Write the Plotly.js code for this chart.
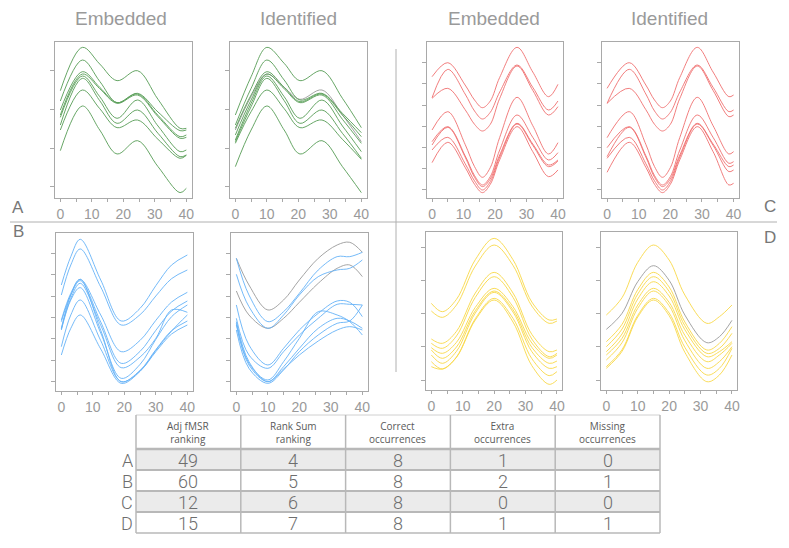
<!DOCTYPE html>
<html>
<head>
<meta charset="utf-8">
<script src="https://cdn.plot.ly/plotly-3.0.1.min.js"></script>
<style>html,body{margin:0;padding:0;background:#fff;}#chart{width:789px;height:548px;}</style>
</head>
<body>
<div id="chart"></div>
<script>
// ---------------- DATA ----------------
// Panel A (green) - Embedded (8 profiles) and Identified (8 + 1 extra)
const aEmbX = [0, 7, 12.5, 18, 24.5, 31, 38, 40];
const aEmbY = [
  [323,453,403,353,383,297,210,210],
  [292,415,351,287,315,259,203,205],
  [265,380,333,287,313,249,185,190],
  [250,373,329,285,310,245,180,183],
  [243,367,305,240,295,217,140,145],
  [220,360,293,225,265,195,125,130],
  [205,325,269,212,235,177,120,129],
  [143,277,205,133,173,95,17,30]
];
const aIdX = [0, 5, 10, 15.5, 20.5, 27.5, 34, 40];
const aIdY = [
  [250,365,453,405,353,383,300,212],
  [220,330,415,355,295,315,255,197],
  [210,310,380,333,290,313,250,185],
  [190,295,373,329,287,310,237,165],
  [175,285,367,305,240,295,217,140],
  [170,275,360,293,225,265,195,120],
  [165,260,325,269,212,235,177,117],
  [95,205,277,205,133,173,95,17]
];
const aIdExtra = [
  [205,305,373,333,297,325,250,170]
];

// Panel B (blue)
const bEmbX = [0, 3, 6, 12.5, 19, 25, 30, 35, 40];
const bEmbY = [
  [318,403,455,333,210,248,316,378,408],
  [288,378,426,312,198,229,285,337,363],
  [213,293,335,228,118,152,212,267,296],
  [208,288,331,207,83,119,182,240,270],
  [188,278,323,197,70,102,158,243,236],
  [183,273,310,174,38,80,155,223,258],
  [186,288,335,182,28,62,124,181,210],
  [133,228,273,151,28,60,118,171,198],
  [108,188,228,126,23,59,122,180,228]
];
const bIdX = [0, 4, 10, 15, 20, 26, 32, 36, 40];
const bIdY = [
  [398,288,208,238,293,363,403,403,416],
  [350,253,188,228,288,343,363,368,393],
  [258,138,78,128,183,233,270,266,223],
  [218,108,68,118,168,218,260,260,258],
  [203,83,33,88,158,238,228,208,168],
  [198,78,28,73,128,188,218,210,188],
  [183,68,23,63,118,168,203,210,258],
  [208,88,28,66,108,150,183,193,183]
];
const bIdExtra = [
  [398,318,243,273,333,398,438,446,416],
  [300,228,188,218,266,323,368,378,343]
];

// Panel C (red)
const cEmbX = [0, 5, 10.5, 13.5, 16, 18.5, 21.5, 27, 32, 37, 40];
const cEmbY = [
  [365,407,340,295,272,292,363,453,379,305,342],
  [302,387,313,262,238,258,319,400,333,265,292],
  [300,330,266,222,202,222,300,397,324,250,275],
  [205,260,162,95,63,92,183,303,218,133,167],
  [170,215,128,68,40,65,145,250,183,115,137],
  [160,213,124,63,35,58,130,225,163,100,115],
  [145,183,104,52,25,50,124,223,159,95,112],
  [107,168,93,42,17,42,116,215,140,65,85]
];
const cIdX = [0, 7, 12.25, 15, 17.5, 20, 23, 28.5, 33.5, 38.5, 40];
const cIdY = [
  [330,407,340,295,272,292,363,453,379,305,310],
  [285,387,313,262,238,258,319,400,333,260,265],
  [285,330,266,222,202,222,300,397,324,245,250],
  [182,260,162,95,63,92,183,303,218,133,140],
  [152,215,128,68,40,65,145,250,183,105,110],
  [125,213,124,63,35,58,130,225,163,95,100],
  [120,183,104,52,25,50,124,223,159,80,85],
  [78,168,93,42,17,42,116,215,140,40,45]
];

// Panel D (yellow)
const dEmbX = [0, 3.5, 8, 14, 20, 26, 32, 37.5, 40];
const dEmbY = [
  [260,235,272,391,455,391,264,210,213],
  [237,218,255,372,435,374,252,200,207],
  [153,140,176,291,353,291,167,115,120],
  [140,125,162,278,340,278,153,100,110],
  [127,110,143,248,305,250,141,95,105],
  [120,95,129,238,297,241,128,80,87],
  [105,80,116,231,293,234,115,65,70],
  [85,63,99,214,275,215,94,43,55],
  [70,63,98,210,270,204,73,17,30]
];
const dIdX = [0, 5, 10, 15, 20, 25, 32, 36, 40];
const dIdY = [
  [225,277,383,435,390,285,200,220,255],
  [145,197,301,353,309,204,120,140,190],
  [130,183,288,340,296,193,110,125,170],
  [115,168,273,325,282,181,100,115,145],
  [105,155,255,305,263,164,85,105,140],
  [90,142,245,297,253,148,65,85,130],
  [70,121,224,275,231,128,45,65,125],
  [65,116,219,270,223,113,25,45,105]
];
const dIdExtra = [
  [182,230,325,373,329,225,142,160,209]
];

// Table
const tableHeaders = ["Adj fMSR<br>ranking", "Rank Sum<br>ranking", "Correct<br>occurrences", "Extra<br>occurrences", "Missing<br>occurrences"];
const rowLabels = ["A", "B", "C", "D"];
const adjFmsr = [49, 60, 12, 15];
const rankSum = [4, 5, 6, 7];
const correctOcc = [8, 8, 8, 8];
const extraOcc = [1, 2, 0, 1];
const missingOcc = [0, 1, 0, 1];

const panelTitles = ["Embedded", "Identified", "Embedded", "Identified"];
const quadrantLetters = ["A", "B", "C", "D"];

// ---------------- LAYOUT / DRAW ----------------
const W = 789, H = 548;
const X = p => p / W;
const Y = p => 1 - p / H;
const px = (l, r) => [X(l), X(r)];
const py = (t, b) => [Y(b), Y(t)];

const GREEN = '#579c55', BLUE = '#66b2f7', RED = '#f07070', YELLOW = '#f8d848', GRAY = '#9a9a9a';
const AX = '#a9a9a9';
const LIGHT = "Roboto, 'Liberation Sans', Arial, sans-serif";
const SANS = "'Liberation Sans', Arial, sans-serif";

const panels = [
  {id:'',  xs:aEmbX, ys:aEmbY, extra:[],       color:GREEN,  xd:px(55,191.7),    yd:py(41.7,198.3), yr:470, t0:35, dt:115.7},
  {id:'2', xs:aIdX,  ys:aIdY,  extra:aIdExtra, color:GREEN,  xd:px(230,366.7),   yd:py(41.7,198.3), yr:470, t0:35, dt:115.7},
  {id:'3', xs:cEmbX, ys:cEmbY, extra:[],       color:RED,    xd:px(426.7,563.3), yd:py(41.7,198.3), yr:470, t0:25, dt:63.7},
  {id:'4', xs:cIdX,  ys:cIdY,  extra:[],       color:RED,    xd:px(601.7,739),   yd:py(41.7,198.3), yr:470, t0:25, dt:63.7},
  {id:'5', xs:bEmbX, ys:bEmbY, extra:[],       color:BLUE,   xd:px(56,192.7),    yd:py(233.3,391),  yr:473, t0:28, dt:64.2},
  {id:'6', xs:bIdX,  ys:bIdY,  extra:bIdExtra, color:BLUE,   xd:px(231,367.7),   yd:py(233.3,391),  yr:473, t0:28, dt:64.2},
  {id:'7', xs:dEmbX, ys:dEmbY, extra:[],       color:YELLOW, xd:px(426,562.3),   yd:py(231.7,390),  yr:475, t0:30, dt:99.3},
  {id:'8', xs:dIdX,  ys:dIdY,  extra:dIdExtra, color:YELLOW, xd:px(601,737.3),   yd:py(231.7,390),  yr:475, t0:30, dt:99.3}
];

const traces = [];
const layout = {
  width: W, height: H,
  margin: {l:0, r:0, t:0, b:0},
  paper_bgcolor: '#ffffff', plot_bgcolor: '#ffffff',
  showlegend: false,
  annotations: [], shapes: []
};

panels.forEach(p => {
  const xa = 'x' + p.id, ya = 'y' + p.id;
  const addLine = (ys, col) => traces.push({
    type:'scatter', mode:'lines', x:p.xs, y:ys, xaxis:xa, yaxis:ya,
    line:{shape:'spline', smoothing:1, color:col, width:1}, opacity:0.9, hoverinfo:'skip'
  });
  p.extra.forEach(ys => addLine(ys, GRAY));
  p.ys.forEach(ys => addLine(ys, p.color));
  layout['xaxis' + p.id] = {
    domain:p.xd, anchor:ya, range:[-1.7, 41.7],
    showline:true, mirror:true, linecolor:AX, linewidth:1,
    ticks:'outside', ticklen:3, tickcolor:AX, tick0:0, dtick:10,
    minor:{dtick:5, ticks:'outside', ticklen:3, tickcolor:AX, showgrid:false},
    showgrid:false, zeroline:false,
    tickfont:{family:SANS, size:14, color:'#9a9a9a'}
  };
  layout['yaxis' + p.id] = {
    domain:p.yd, anchor:xa, range:[0, p.yr],
    showline:true, mirror:true, linecolor:AX, linewidth:1,
    ticks:'outside', ticklen:4, tickcolor:AX, tick0:p.t0, dtick:p.dt,
    showticklabels:false, showgrid:false, zeroline:false
  };
});

// ---- Table (shapes + text) ----
const tb = {left:136, right:660, top:415, headH:34, rowH:21};
const cols = [adjFmsr, rankSum, correctOcc, extraOcc, missingOcc];
const nCol = cols.length, nRow = rowLabels.length;
const colW = (tb.right - tb.left) / nCol;
const bodyTop = tb.top + tb.headH;
const bottom = bodyTop + nRow * tb.rowH;
const LINE = '#b8b8b8';

rowLabels.forEach((r, i) => {
  if (i % 2 === 0) layout.shapes.push({type:'rect', xref:'paper', yref:'paper', layer:'below',
    x0:X(tb.left), x1:X(tb.right), y0:Y(bodyTop + (i+1)*tb.rowH), y1:Y(bodyTop + i*tb.rowH),
    fillcolor:'#ebebeb', line:{width:0}});
});
layout.shapes.push({type:'line', xref:'paper', yref:'paper', x0:X(tb.left), x1:X(tb.right), y0:Y(tb.top), y1:Y(tb.top), line:{color:'#d0d0d0', width:1}});
for (let i = 0; i <= nRow; i++) {
  const yy = bodyTop + i * tb.rowH;
  layout.shapes.push({type:'line', xref:'paper', yref:'paper', x0:X(tb.left), x1:X(tb.right), y0:Y(yy), y1:Y(yy),
    line:{color:LINE, width:(i === 0 ? 2.5 : (i === nRow ? 1.5 : 2))}});
}
for (let j = 0; j <= nCol; j++) {
  const xx = tb.left + j * colW;
  layout.shapes.push({type:'line', xref:'paper', yref:'paper', x0:X(xx), x1:X(xx), y0:Y(tb.top), y1:Y(bottom),
    line:{color:LINE, width:1.5}});
}
tableHeaders.forEach((h, j) => layout.annotations.push({
  xref:'paper', yref:'paper', x:X(tb.left + (j+0.5)*colW), y:Y(tb.top + tb.headH/2), xanchor:'center', yanchor:'middle',
  text:h, showarrow:false, font:{family:"'Open Sans', 'Liberation Sans', sans-serif", size:10, color:'#5a5a5a'}
}));
cols.forEach((col, j) => col.forEach((v, i) => layout.annotations.push({
  xref:'paper', yref:'paper', x:X(tb.left + (j+0.5)*colW), y:Y(bodyTop + (i+0.5)*tb.rowH + 0.5), xanchor:'center', yanchor:'middle',
  height:19, borderpad:0,
  text:String(v), showarrow:false, font:{family:LIGHT, weight:300, size:18, color:'#6e6e6e'}
})));
rowLabels.forEach((r, i) => layout.annotations.push({
  xref:'paper', yref:'paper', x:X(tb.left - 2), y:Y(bodyTop + (i+0.5)*tb.rowH + 0.5), xanchor:'right', yanchor:'middle',
  height:19, borderpad:0,
  text:r, showarrow:false, font:{family:LIGHT, weight:300, size:18, color:'#6e6e6e'}
}));

// Titles
const titleX = [121, 298, 494, 669];
panelTitles.forEach((t, i) => layout.annotations.push({
  xref:'paper', yref:'paper', x:X(titleX[i]), y:Y(18), xanchor:'center', yanchor:'middle',
  text:t, showarrow:false, font:{family:SANS, size:19, color:'#9a9a9a'}
}));

// Quadrant letters
const quadPos = [[18,207],[18,232],[770,206],[770,237]];
quadrantLetters.forEach((q, i) => layout.annotations.push({
  xref:'paper', yref:'paper', x:X(quadPos[i][0]), y:Y(quadPos[i][1]), xanchor:'center', yanchor:'middle',
  text:q, showarrow:false, font:{family:SANS, size:17, color:'#777777'}
}));

// Divider lines
layout.shapes.push({type:'line', xref:'paper', yref:'paper', x0:X(10), x1:X(777), y0:Y(222), y1:Y(222), line:{color:'#b0b0b0', width:1}});
layout.shapes.push({type:'line', xref:'paper', yref:'paper', x0:X(396), x1:X(396), y0:Y(49), y1:Y(372), line:{color:'#b0b0b0', width:1}});

Plotly.newPlot('chart', traces, layout, {staticPlot:true, displayModeBar:false});
</script>
</body>
</html>
